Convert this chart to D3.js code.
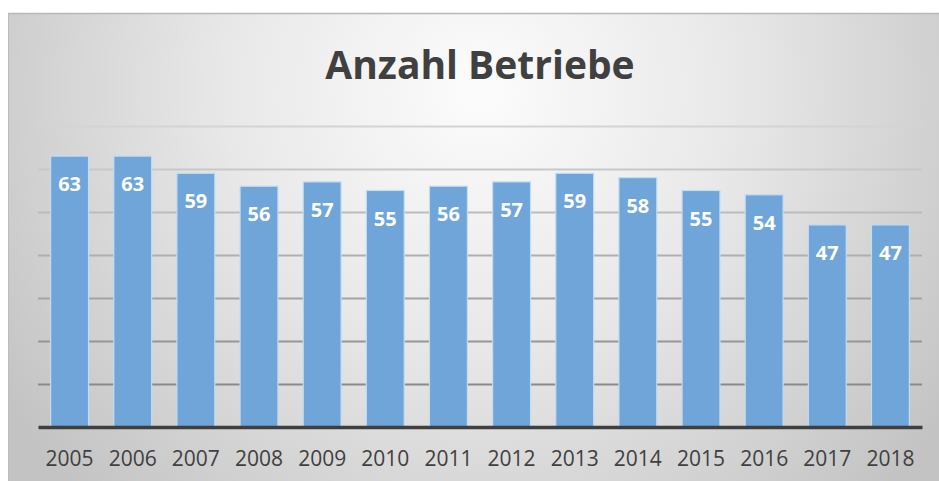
<!DOCTYPE html>
<html>
<head>
<meta charset="utf-8">
<script src="https://cdn.jsdelivr.net/npm/d3@7"></script>
<style>
	body { margin: 0; background: #fff; }
	svg { display: block; }
</style>
</head>
<body>
<div id="chart"></div>
<script>
var years = ["2005", "2006", "2007", "2008", "2009", "2010", "2011", "2012", "2013", "2014", "2015", "2016", "2017", "2018"];
var betriebe = [63, 63, 59, 56, 57, 55, 56, 57, 59, 58, 55, 54, 47, 47];
var gridValues = [10, 20, 30, 40, 50, 60, 70];
var title = "Anzahl Betriebe";

var W = 939, H = 481;
var margin = { top: 126, right: 17, bottom: 54, left: 38 };
var width = W - margin.left - margin.right,
	height = H - margin.top - margin.bottom;

var svg = d3.select("#chart").append("svg")
	.attr("width", W)
	.attr("height", H);

// background gradient
var defs = svg.append("defs");
var grad = defs.append("radialGradient")
	.attr("id", "bg")
	.attr("gradientUnits", "userSpaceOnUse")
	.attr("cx", 480).attr("cy", 90).attr("r", 570);
grad.append("stop").attr("offset", "0%").attr("stop-color", "#fcfcfc");
grad.append("stop").attr("offset", "45%").attr("stop-color", "#e8e8e8");
grad.append("stop").attr("offset", "100%").attr("stop-color", "#c3c3c3");

svg.append("rect")
	.attr("x", 8).attr("y", 13)
	.attr("width", W - 8).attr("height", H - 13)
	.attr("fill", "url(#bg)");

svg.append("line")
	.attr("x1", 8).attr("y1", 13.5).attr("x2", W).attr("y2", 13.5)
	.attr("stroke", "#b8b8b8").attr("stroke-width", 1.5);
svg.append("line")
	.attr("x1", 8.5).attr("y1", 13).attr("x2", 8.5).attr("y2", H)
	.attr("stroke", "#bcbcbc").attr("stroke-width", 1);

var g = svg.append("g")
	.attr("transform", "translate(" + margin.left + "," + margin.top + ")");

var x = d3.scaleBand().domain(years).range([0, width]).paddingInner(0.4).paddingOuter(0.2);
var y = d3.scaleLinear().domain([0, 70]).range([height, 0]);
var gridColor = d3.scaleLinear().domain([10, 70]).range(["#8a8a8a", "#d4d4d4"]);

// gridlines
g.selectAll(".grid")
	.data(gridValues)
	.enter().append("line")
	.attr("class", "grid")
	.attr("x1", 0)
	.attr("x2", width)
	.attr("y1", function(d) { return Math.round(y(d)) + 0.5; })
	.attr("y2", function(d) { return Math.round(y(d)) + 0.5; })
	.attr("stroke", function(d) { return gridColor(d); })
	.attr("stroke-width", 2);

// bars
g.selectAll(".bar")
	.data(betriebe)
	.enter().append("rect")
	.attr("class", "bar")
	.attr("x", function(d, i) { return x(years[i]); })
	.attr("y", function(d) { return y(d); })
	.attr("width", x.bandwidth())
	.attr("height", function(d) { return height - y(d); })
	.attr("fill", "#6fa5d9")
	.attr("stroke", "#c4dcf2")
	.attr("stroke-width", 1.2);

// value labels
g.selectAll(".val")
	.data(betriebe)
	.enter().append("text")
	.attr("class", "val")
	.attr("x", function(d, i) { return x(years[i]) + x.bandwidth() / 2; })
	.attr("y", function(d) { return y(d) + 35; })
	.attr("text-anchor", "middle")
	.style("font", "bold 20px 'Open Sans', sans-serif")
	.style("fill", "#fff")
	.text(function(d) { return d; });

// x axis
var xAxis = g.append("g")
	.attr("class", "axis axis--x")
	.attr("transform", "translate(0," + height + ")")
	.call(d3.axisBottom(x).tickSize(0).tickPadding(0));

xAxis.select(".domain")
	.attr("stroke", "#3f3f3f")
	.attr("stroke-width", 3.5);

xAxis.selectAll("text")
	.attr("dy", null)
	.attr("y", 39)
	.style("font", "21px 'Open Sans', sans-serif")
	.style("fill", "#404040");

// title
svg.append("text")
	.attr("x", 480)
	.attr("y", 79)
	.attr("text-anchor", "middle")
	.style("font", "bold 39px 'Open Sans', sans-serif")
	.style("fill", "#404040")
	.text(title);
</script>
</body>
</html>
